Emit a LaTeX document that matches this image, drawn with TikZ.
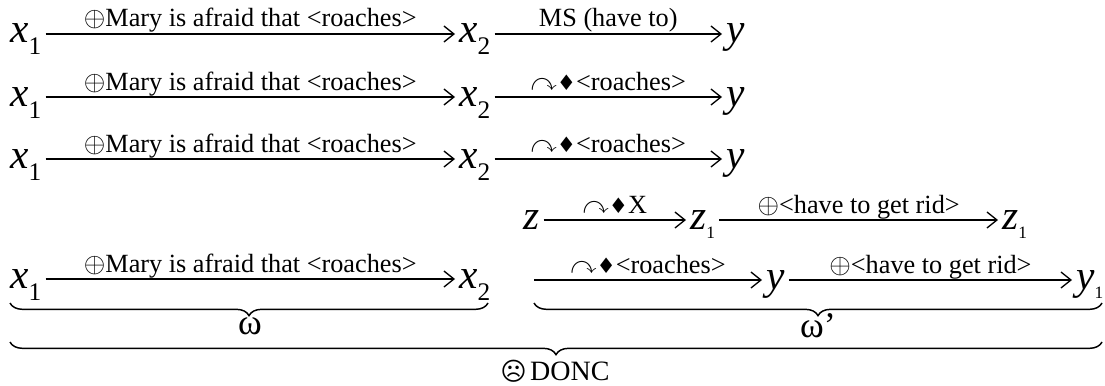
\documentclass[tikz,border=0pt]{standalone}
\usepackage{xcolor}
\usepackage{amssymb}
\usepackage{fontspec}
\setmainfont{Liberation Serif}
\newfontfamily\symfont{DejaVu Sans}
\usetikzlibrary{arrows.meta,decorations.pathreplacing}

\newcommand{\bigvar}[1]{{\fontsize{31}{35}\selectfont\itshape #1}}
\newcommand{\midsub}[1]{\raisebox{-9pt}{\fontsize{19}{22}\selectfont #1}}
\newcommand{\tinysub}[1]{\raisebox{-7pt}{\fontsize{13}{14}\selectfont #1}}
\newcommand{\opadd}{$\oplus$}
\newcommand{\opturn}{$\curvearrowright${\symfont\fontsize{16}{19}\selectfont ♦}}

\tikzset{
  varnode/.style={inner sep=0pt,inner xsep=3pt,anchor=west,text height=22.5pt,text depth=9pt},
  steparrow/.style={line width=1.1pt,-{Straight Barb[length=7.5pt,width=12pt,line width=1pt]}},
  steplabel/.style={midway,above,inner sep=0.2pt,text depth=4.5pt,font=\fontsize{19.7}{22}\selectfont},
  bracepath/.style={line width=1.1pt,decorate,decoration={brace,mirror,amplitude=9.5pt}},
  bracelabel/.style={inner sep=0pt}
}

\begin{document}
\begin{tikzpicture}[x=0.75pt,y=0.75pt,yscale=-1,xscale=1]
\useasboundingbox (0,0) rectangle (1105,385);

% first row
\node [varnode] (xa) at (6,34) {\bigvar{x}\midsub{1}};
\node [varnode] (xb) at (455,34) {\bigvar{x}\midsub{2}};
\node [varnode] (ya) at (722,34) {\bigvar{y}};
\draw [steparrow] (xa) -- node [steplabel] {\opadd Mary is afraid that <roaches>} (xb);
\draw [steparrow] (xb) -- node [steplabel] {MS (have to)} (ya);

% second row
\node [varnode] (xc) at (6,97) {\bigvar{x}\midsub{1}};
\node [varnode] (xd) at (455,97) {\bigvar{x}\midsub{2}};
\node [varnode] (yb) at (722,97) {\bigvar{y}};
\draw [steparrow] (xc) -- node [steplabel] {\opadd Mary is afraid that <roaches>} (xd);
\draw [steparrow] (xd) -- node [steplabel] {\opturn<roaches>} (yb);

% third row
\node [varnode] (xe) at (6,159) {\bigvar{x}\midsub{1}};
\node [varnode] (xf) at (455,159) {\bigvar{x}\midsub{2}};
\node [varnode] (yc) at (722,159) {\bigvar{y}};
\draw [steparrow] (xe) -- node [steplabel] {\opadd Mary is afraid that <roaches>} (xf);
\draw [steparrow] (xf) -- node [steplabel] {\opturn<roaches>} (yc);

% z row
\node [varnode] (za) at (519,220) {\bigvar{z}};
\node [varnode] (zb) at (686,220) {\bigvar{z}\tinysub{1}};
\node [varnode] (zc) at (998,220) {\bigvar{z}\tinysub{1}};
\draw [steparrow] (za) -- node [steplabel] {\opturn X} (zb);
\draw [steparrow] (zb) -- node [steplabel] {\opadd<have to get rid>} (zc);

% last row, left part
\node [varnode] (xg) at (6,279) {\bigvar{x}\midsub{1}};
\node [varnode] (xh) at (455,279) {\bigvar{x}\midsub{2}};
\draw [steparrow] (xg) -- node [steplabel] {\opadd Mary is afraid that <roaches>} (xh);

% last row, right part
\coordinate (start) at (534,280);
\node [varnode] (yd) at (762,280) {\bigvar{y}};
\node [varnode] (ye) at (1072,280) {\bigvar{y}\tinysub{1}};
\draw [steparrow] (start) -- node [steplabel] {\opturn<roaches>} (yd);
\draw [steparrow] (yd) -- node [steplabel] {\opadd<have to get rid>} (ye);

% braces
\coordinate (omegaleft) at (10,303);
\coordinate (omegaright) at (488,303);
\coordinate (primeleft) at (534,303);
\coordinate (primeright) at (1102,303);
\coordinate (doncleft) at (10,342);
\coordinate (doncright) at (1102,342);
\draw [bracepath] (omegaleft) -- (omegaright);
\draw [bracepath] (primeleft) -- (primeright);
\draw [bracepath] (doncleft) -- (doncright);

% Text Node
\node [bracelabel] (omega) at (250,326) {\fontsize{27}{29}\selectfont ω};
% Text Node
\node [bracelabel] (omegaprime) at (818,326) {\fontsize{27}{29}\selectfont ω’};
% Text Node
\node [bracelabel] (donc) at (555,371) {{\symfont\fontsize{19}{19}\selectfont ☹}\ \fontsize{21}{23}\selectfont DONC};

\end{tikzpicture}
\end{document}
